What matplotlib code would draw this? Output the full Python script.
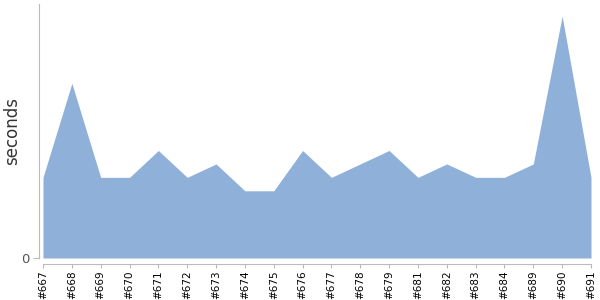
import numpy as np
import matplotlib
matplotlib.use("Agg")
import matplotlib.pyplot as plt

# builds and their run time
builds = ["#667", "#668", "#669", "#670", "#671", "#672", "#673", "#674", "#675", "#676",
          "#677", "#678", "#679", "#681", "#682", "#683", "#684", "#689", "#690", "#691"]
seconds = [6, 13, 6, 6, 8, 6, 7, 5, 5, 8,
           6, 7, 8, 6, 7, 6, 6, 7, 18, 6]

fig = plt.figure(figsize=(6, 3), dpi=100)
ax = fig.add_axes([43/600, 1-258/300, 548/600, 254/300])

# spines first: set_position resets the ticks
for s in ["top", "right"]:
    ax.spines[s].set_visible(False)
ax.spines["left"].set_position(("outward", 3))
ax.spines["bottom"].set_position(("outward", 4))
ax.spines["left"].set_color("#bbbbbb")
ax.spines["bottom"].set_color("#bbbbbb")

xs = np.arange(len(builds))
ax.fill_between(xs, seconds, 0, color="#8fb1d9", linewidth=0)

ax.set_xlim(0, len(builds)-1)
ax.set_ylim(0, 18.9)
ax.set_xticks(xs)
ax.set_xticklabels(builds, rotation=90, fontsize=7.5, color="black")
ax.set_yticks([0])
ax.set_yticklabels(["0"], fontsize=9.5, color="#555555")
ax.tick_params(axis="x", length=3, color="#bbbbbb", pad=2)
ax.tick_params(axis="y", length=4, color="#bbbbbb", pad=3)

ax.set_ylabel("seconds", fontsize=12, color="#333333")
ax.yaxis.set_label_coords(-22/548, 0.5)

fig.savefig("out.png", dpi=100)
